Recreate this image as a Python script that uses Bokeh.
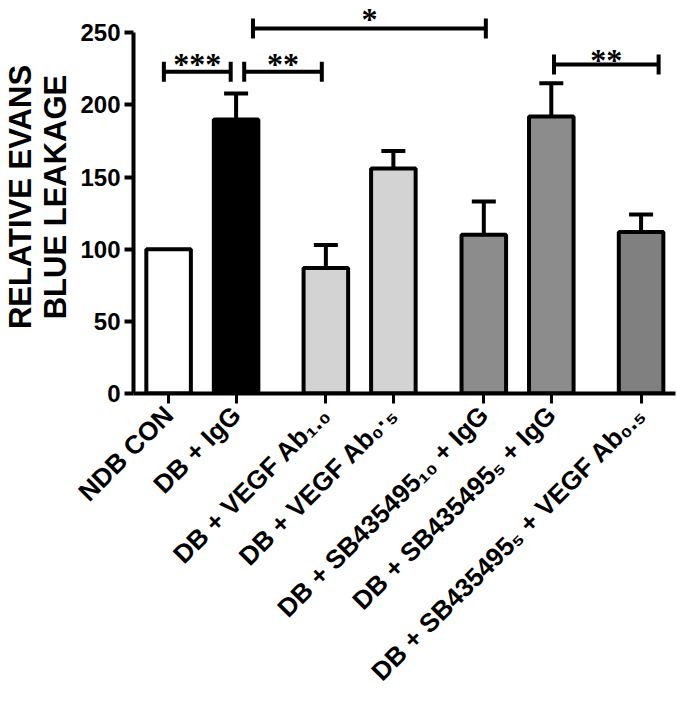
import math
from bokeh.plotting import figure
from bokeh.models import (FixedTicker, Whisker, TeeHead, LabelSet, ColumnDataSource, Range1d)
from bokeh.embed import file_html
from bokeh.resources import INLINE

# ---- data ----
categories = ["NDB CON", "DB + IgG", "DB + VEGF Ab₁.₀", "DB + VEGF Ab₀·₅",
              "DB + SB435495₁₀ + IgG", "DB + SB435495₅ + IgG",
              "DB + SB435495₅ + VEGF Ab₀.₅"]
positions = [0, 1, 2.33, 3.33, 4.67, 5.67, 7.0]
means = [100, 190, 87, 156, 110, 192, 112]
errors = [0, 18, 16, 12, 23, 23, 12]
fill_colors = ["#ffffff", "#000000", "#d3d3d3", "#d3d3d3", "#8c8c8c", "#8c8c8c", "#808080"]

y_ticks = [0, 50, 100, 150, 200, 250]

sig_start = [-0.07, 1.12, 1.25, 5.71]
sig_end = [0.92, 2.27, 4.70, 7.26]
sig_y = [223, 223, 253, 228]
sig_text = ["***", "**", "*", "**"]
sig_text_offset = [-3, -3, -2, -6]

FONT = "Liberation Sans"

p = figure(width=677, height=707, output_backend="svg", toolbar_location=None,
           x_range=Range1d(-0.52, 7.51), y_range=Range1d(0, 272.4),
           min_border_left=132, min_border_right=2, min_border_top=0,
           min_border_bottom=314)
p.outline_line_color = None
p.xgrid.visible = False
p.ygrid.visible = False

bars = ColumnDataSource(dict(x=positions, top=means, color=fill_colors))
p.vbar(x="x", top="top", bottom=0, width=0.66, source=bars, fill_color="color",
       line_color="black", line_width=4)

ex = [x for x, e in zip(positions, errors) if e > 0]
elo = [m for m, e in zip(means, errors) if e > 0]
ehi = [m + e for m, e in zip(means, errors) if e > 0]
err_src = ColumnDataSource(dict(base=ex, lower=elo, upper=ehi))
p.add_layout(Whisker(source=err_src, base="base", lower="lower", upper="upper",
                     dimension="height", line_width=4, line_color="black",
                     lower_head=None,
                     upper_head=TeeHead(size=24, line_width=4, line_color="black")))

sig_src = ColumnDataSource(dict(base=sig_y, lower=sig_start, upper=sig_end,
                                xm=[(a + b) / 2 for a, b in zip(sig_start, sig_end)],
                                text=sig_text, dy=sig_text_offset))
p.add_layout(Whisker(source=sig_src, base="base", lower="lower", upper="upper",
                     dimension="width", line_width=4, line_color="black",
                     lower_head=TeeHead(size=20, line_width=4, line_color="black"),
                     upper_head=TeeHead(size=20, line_width=4, line_color="black")))
p.add_layout(LabelSet(source=sig_src, x="xm", y="base", text="text",
                      text_align="center", text_baseline="alphabetic", y_offset="dy",
                      text_font=FONT, text_font_style="bold", text_font_size="32px",
                      text_color="black"))

# y axis
ya = p.yaxis[0]
ya.ticker = FixedTicker(ticks=y_ticks)
ya.bounds = (0, 250)
ya.axis_label = "RELATIVE EVANS\nBLUE LEAKAGE"
ya.axis_label_text_font = FONT
ya.axis_label_text_font_style = "bold"
ya.axis_label_text_font_size = "31px"
ya.axis_label_text_line_height = 1.0
ya.axis_label_text_color = "black"
ya.axis_label_standoff = 4
ya.major_label_text_font = FONT
ya.major_label_text_font_style = "bold"
ya.major_label_text_font_size = "24px"
ya.major_label_text_color = "black"
ya.major_label_standoff = 4
ya.axis_line_width = 4
ya.major_tick_line_width = 4
ya.major_tick_out = 9
ya.major_tick_in = 0
ya.minor_tick_line_color = None

# x axis
xa = p.xaxis[0]
xa.ticker = FixedTicker(ticks=positions)
xa.major_label_overrides = {pos: lab for pos, lab in zip(positions, categories)}
xa.major_label_orientation = math.pi / 4
xa.major_label_text_font = FONT
xa.major_label_text_font_style = "bold"
xa.major_label_text_font_size = "26px"
xa.major_label_text_color = "black"
xa.major_label_standoff = 7
xa.axis_line_width = 4
xa.major_tick_line_width = 3
xa.major_tick_out = 10
xa.major_tick_in = 0
xa.minor_tick_line_color = None

open("out.html", "w").write(file_html(p, INLINE))
